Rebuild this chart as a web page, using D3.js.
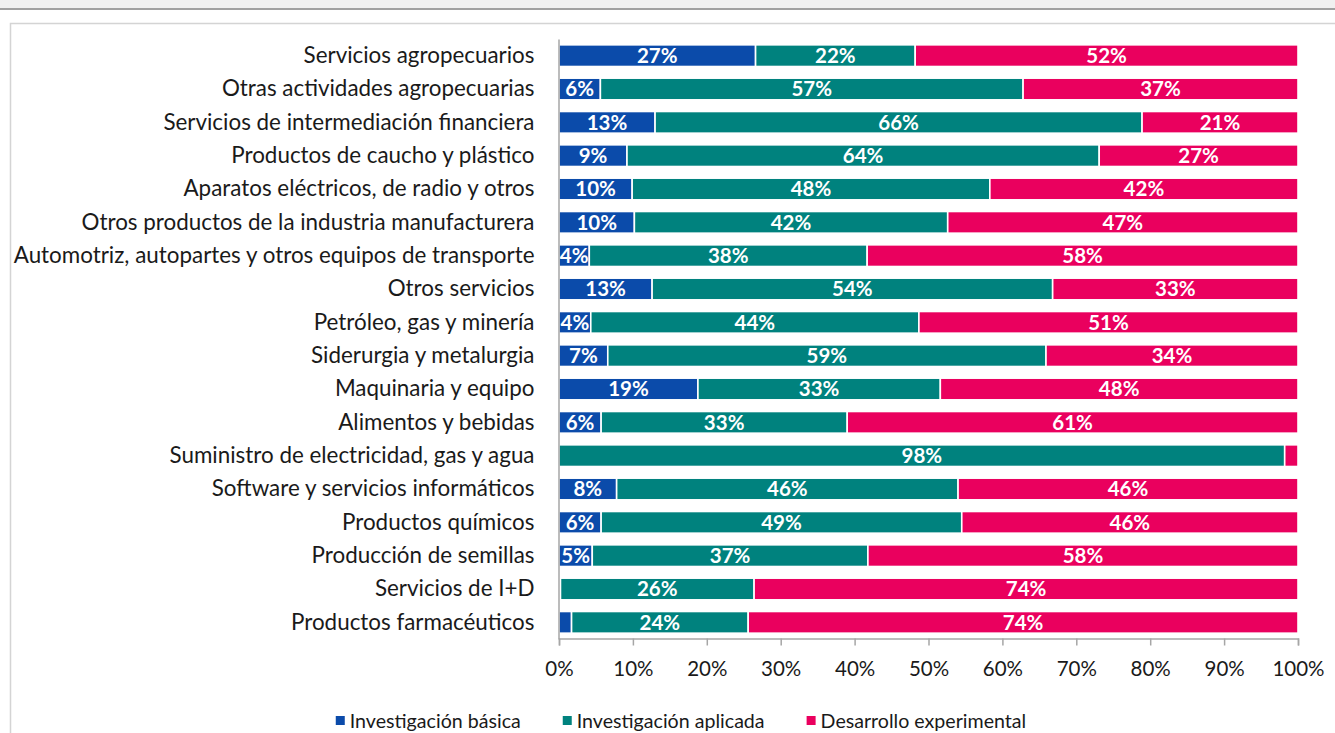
<!DOCTYPE html>
<html>
<head>
<meta charset="utf-8">
<script src="https://cdn.jsdelivr.net/npm/d3@7"></script>
<style>
  body { margin: 0; background: #fff; }
  svg { display: block; }
</style>
</head>
<body>
<div id="chart"></div>
<script>
// categories, top to bottom
var categorias = ["Servicios agropecuarios", "Otras actividades agropecuarias", "Servicios de intermediación financiera",
                  "Productos de caucho y plástico", "Aparatos eléctricos, de radio y otros", "Otros productos de la industria manufacturera",
                  "Automotriz, autopartes y otros equipos de transporte", "Otros servicios", "Petróleo, gas y minería",
                  "Siderurgia y metalurgia", "Maquinaria y equipo", "Alimentos y bebidas", "Suministro de electricidad, gas y agua",
                  "Software y servicios informáticos", "Productos químicos", "Producción de semillas", "Servicios de I+D",
                  "Productos farmacéuticos"];

var basica     = [26.6, 5.6, 13.0, 9.2, 9.9, 10.2, 4.1, 12.6, 4.3, 6.6, 18.8, 5.7, 0.0, 7.8, 5.7, 4.5, 0.2, 1.7];
var aplicada   = [21.6, 57.2, 65.9, 63.9, 48.4, 42.4, 37.6, 54.2, 44.4, 59.3, 32.8, 33.3, 98.2, 46.2, 48.8, 37.3, 26.2, 23.9];
var desarrollo = [51.8, 37.2, 21.1, 26.9, 41.7, 47.4, 58.3, 33.2, 51.3, 34.1, 48.4, 61.0, 1.8, 46.0, 45.5, 58.2, 73.6, 74.4];

var series = ["Investigación básica", "Investigación aplicada", "Desarrollo experimental"];
var colores = ["#0B4BAA", "#00827E", "#EA005E"];
var ticksX = [0, 10, 20, 30, 40, 50, 60, 70, 80, 90, 100];

var W = 1335, H = 733;
var fuente = "Lato, 'Open Sans', sans-serif";

var svg = d3.select("#chart").append("svg")
    .attr("width", W)
    .attr("height", H);

// window strip and chart frame
svg.append("rect").attr("x", 0).attr("y", 0).attr("width", W).attr("height", 9).attr("fill", "#f0f0f0");
svg.append("line").attr("x1", 0).attr("x2", W).attr("y1", 9).attr("y2", 9).attr("stroke", "#a0a0a0").attr("stroke-width", 2);
svg.append("path")
    .attr("d", "M10.5," + (H + 2) + "V23.5H" + (W + 2))
    .attr("fill", "none")
    .attr("stroke", "#d4d4d4")
    .attr("stroke-width", 1.5);

var x = d3.scaleLinear().domain([0, 100]).range([559, 1298]);
var y = d3.scaleBand().domain(categorias).range([39, 639]).paddingInner(0.35).paddingOuter(0.175);

var tabla = categorias.map(function (c, i) {
    return { cat: c, "Investigación básica": basica[i], "Investigación aplicada": aplicada[i], "Desarrollo experimental": desarrollo[i] };
});
var pila = d3.stack().keys(series)(tabla);

// bars
var grupos = svg.selectAll("g.serie")
    .data(pila)
    .enter()
    .append("g")
    .attr("class", "serie")
    .attr("fill", function (d, i) { return colores[i]; });

grupos.selectAll("rect")
    .data(function (d) { return d; })
    .enter()
    .append("rect")
    .attr("x", function (d) { return x(d[0]); })
    .attr("y", function (d) { return y(d.data.cat); })
    .attr("width", function (d) { return Math.max(0, x(d[1]) - x(d[0])); })
    .attr("height", y.bandwidth())
    .attr("stroke", function (d) { return (d[1] - d[0]) > 0 ? "#fff" : "none"; })
    .attr("stroke-width", 1.6);

// value labels
grupos.selectAll("text")
    .data(function (d) { return d; })
    .enter()
    .append("text")
    .filter(function (d) { return (d[1] - d[0]) >= 3; })
    .attr("x", function (d) { return (x(d[0]) + x(d[1])) / 2; })
    .attr("y", function (d) { return y(d.data.cat) + y.bandwidth() / 2; })
    .attr("dy", "0.36em")
    .attr("text-anchor", "middle")
    .attr("fill", "#fff")
    .attr("font-family", fuente)
    .attr("font-weight", "bold")
    .attr("font-size", "20.5px")
    .text(function (d) { return Math.round(d[1] - d[0]) + "%"; });

// x axis
var ejeX = svg.append("g")
    .attr("transform", "translate(0," + 638.5 + ")")
    .call(d3.axisBottom(x).tickValues(ticksX).tickSize(7).tickPadding(16)
        .tickFormat(function (d) { return d + "%"; }));
ejeX.select(".domain").attr("stroke", "#a6a6a6").attr("stroke-width", 1.5);
ejeX.selectAll(".tick line").attr("stroke", "#a6a6a6").attr("stroke-width", 1.5);
ejeX.selectAll(".tick text")
    .attr("fill", "#1a1a1a")
    .attr("font-family", fuente)
    .attr("font-size", "20.5px");

// y axis
var ejeY = svg.append("g")
    .attr("transform", "translate(" + 558.5 + ",0)")
    .call(d3.axisLeft(y).tickSize(0).tickPadding(24));
ejeY.select(".domain").attr("stroke", "#a6a6a6").attr("stroke-width", 1.5);
ejeY.selectAll(".tick text")
    .attr("fill", "#1a1a1a")
    .attr("font-family", fuente)
    .attr("font-size", "20px");

// fit category labels to the width of the longest one (about 521px)
var maxAncho = 0;
ejeY.selectAll(".tick text").each(function () { maxAncho = Math.max(maxAncho, this.getComputedTextLength()); });
var tam = 20 * 521 / maxAncho;
ejeY.selectAll(".tick text").attr("font-size", tam + "px");

// legend
var leyenda = svg.append("g").attr("class", "leyenda");
var items = leyenda.selectAll("g")
    .data(series)
    .enter()
    .append("g");
items.append("rect")
    .attr("width", 9)
    .attr("height", 9)
    .attr("y", 716)
    .attr("fill", function (d, i) { return colores[i]; });
items.append("text")
    .attr("x", 14)
    .attr("y", 720.5)
    .attr("dy", "0.36em")
    .attr("fill", "#1a1a1a")
    .attr("font-family", fuente)
    .attr("font-size", "17px")
    .text(function (d) { return d; });

// scale legend text so "Investigación básica" is about 171px wide
var primero = items.select("text").node().getComputedTextLength();
var tamLey = 17 * 171 / primero;
items.select("text").attr("font-size", tamLey + "px");

var anchos = [];
items.select("text").each(function () { anchos.push(this.getComputedTextLength() + 14); });
var hueco = 42;
var total = d3.sum(anchos) + hueco * (anchos.length - 1);
var x0 = 681 - total / 2;
items.attr("transform", function (d, i) {
    var pos = x0 + d3.sum(anchos.slice(0, i)) + hueco * i;
    return "translate(" + pos + ",0)";
});
</script>
</body>
</html>
